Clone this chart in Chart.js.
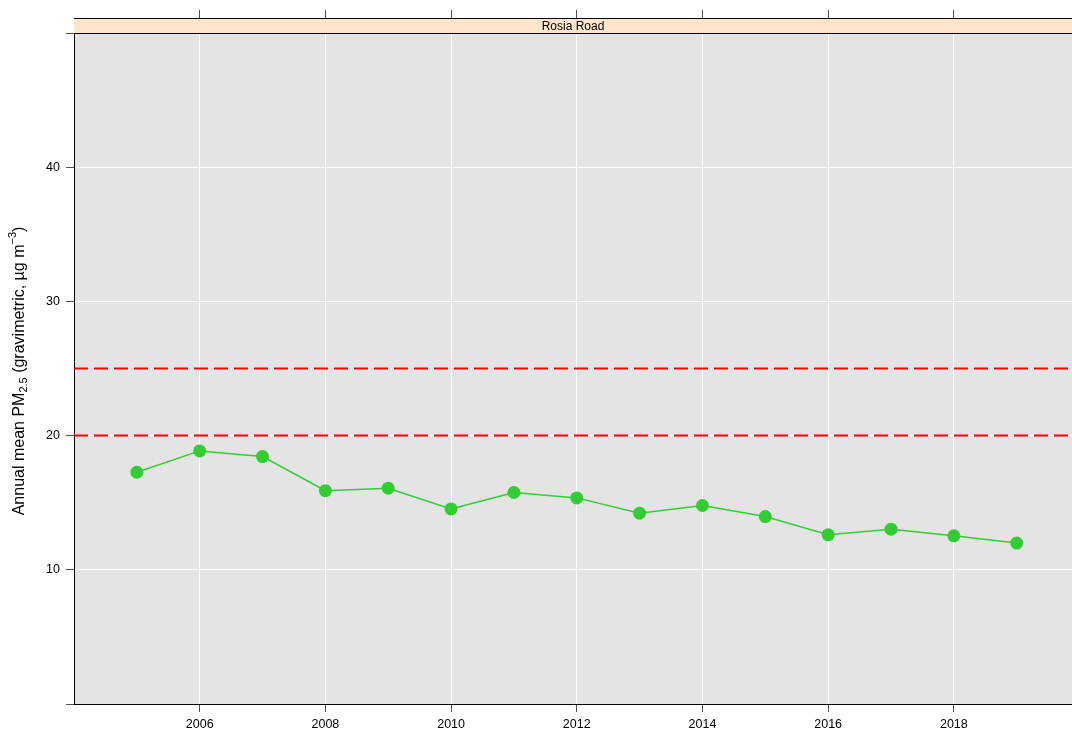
<!DOCTYPE html>
<html>
<head>
<meta charset="utf-8">
<script src="https://cdn.jsdelivr.net/npm/chart.js@4/dist/chart.umd.min.js"></script>
<style>
  html, body { margin: 0; padding: 0; background: #fff; }
  #wrap { width: 1072px; height: 729px; }
</style>
</head>
<body>
<div id="wrap"><canvas id="chart" width="1072" height="729"></canvas></div>
<script>
// data
const years = [2005, 2006, 2007, 2008, 2009, 2010, 2011, 2012, 2013, 2014, 2015, 2016, 2017, 2018, 2019];
const pm25 = [17.27, 18.86, 18.44, 15.9, 16.08, 14.54, 15.76, 15.36, 14.22, 14.79, 13.97, 12.61, 13.03, 12.53, 11.99];
const limitLines = [25, 20];
const xTicks = [2006, 2008, 2010, 2012, 2014, 2016, 2018];
const yTicks = [0, 10, 20, 30, 40, 50];
const yLabels = [10, 20, 30, 40];
const panelName = "Rosia Road";

const xMin = 2004.0;
const xMax = 2019.88;
const yMin = 0;
const yMax = 51.12; // top 15px of the panel hold the strip
const STRIP_H = 15;

document.addEventListener("DOMContentLoaded", () => {
  const ctx = document.getElementById("chart").getContext("2d");

  // grey panel + peach strip with the site name
  const panelPlugin = {
    id: "panel",
    beforeDraw(chart) {
      const { ctx, chartArea: a } = chart;
      ctx.save();
      ctx.fillStyle = "#e4e4e4";
      ctx.fillRect(a.left, a.top + STRIP_H, a.right - a.left, a.bottom - a.top - STRIP_H);
      ctx.restore();
    },
    beforeDatasetsDraw(chart) {
      const { ctx, chartArea: a } = chart;
      ctx.save();
      ctx.fillStyle = "#ffe5cc";
      ctx.fillRect(a.left, a.top, a.right - a.left, STRIP_H);
      ctx.strokeStyle = "#000";
      ctx.lineWidth = 1;
      ctx.beginPath();
      ctx.moveTo(a.left, a.top + 0.5);
      ctx.lineTo(a.right, a.top + 0.5);
      ctx.moveTo(a.left, a.top + STRIP_H + 0.5);
      ctx.lineTo(a.right, a.top + STRIP_H + 0.5);
      ctx.stroke();
      ctx.fillStyle = "#000";
      ctx.font = "12px 'Liberation Sans', Arial, sans-serif";
      ctx.textAlign = "center";
      ctx.textBaseline = "middle";
      ctx.fillText(panelName, (a.left + a.right) / 2, a.top + STRIP_H / 2 + 1);
      ctx.restore();
    },
    afterDraw(chart) {
      // y axis title with sub/superscripts
      const { ctx } = chart;
      const big = "16px 'Liberation Sans', Arial, sans-serif";
      const small = "11px 'Liberation Sans', Arial, sans-serif";
      const parts = [
        { t: "Annual mean PM", f: big, dy: 0 },
        { t: "2.5", f: small, dy: 4 },
        { t: " (gravimetric, \u00b5g m", f: big, dy: 0 },
        { t: "\u22123", f: small, dy: -7 },
        { t: ")", f: big, dy: 0 }
      ];
      ctx.save();
      let total = 0;
      parts.forEach(p => { ctx.font = p.f; p.w = ctx.measureText(p.t).width; total += p.w; });
      ctx.translate(20, 371);
      ctx.rotate(-Math.PI / 2);
      ctx.fillStyle = "#000";
      ctx.textBaseline = "middle";
      ctx.textAlign = "left";
      let u = -total / 2;
      parts.forEach(p => {
        ctx.font = p.f;
        ctx.fillText(p.t, u, p.dy);
        u += p.w;
      });
      ctx.restore();
    }
  };

  const tickFont = { family: "'Liberation Sans', Arial, sans-serif", size: 12.5 };

  const datasets = limitLines.map(v => ({
    data: [{ x: xMin, y: v }, { x: xMax, y: v }],
    borderColor: "#ff0000",
    borderWidth: 2,
    borderDash: [14, 6],
    pointRadius: 0,
    fill: false
  }));
  datasets.push({
    data: years.map((y, i) => ({ x: y, y: pm25[i] })),
    borderColor: "#32cd32",
    backgroundColor: "#32cd32",
    borderWidth: 1.5,
    pointRadius: 6.5,
    pointBorderWidth: 0,
    fill: false
  });

  new Chart(ctx, {
    type: "line",
    data: { datasets },
    options: {
      responsive: false,
      animation: false,
      devicePixelRatio: 1,
      layout: { padding: 0, autoPadding: false },
      plugins: { legend: { display: false }, tooltip: { enabled: false } },
      scales: {
        x: {
          type: "linear",
          position: "bottom",
          min: xMin,
          max: xMax,
          afterBuildTicks: s => { s.ticks = xTicks.map(v => ({ value: v })); },
          afterFit: s => { s.height = 25; s.paddingLeft = 0; s.paddingRight = 0; },
          ticks: {
            callback: v => String(v),
            color: "#000",
            font: tickFont,
            padding: 5,
            maxRotation: 0
          },
          grid: {
            color: "#ffffff",
            lineWidth: 1,
            tickLength: 8,
            tickColor: "#4d4d4d"
          },
          border: { display: true, color: "#000", width: 1 }
        },
        x2: {
          type: "linear",
          position: "top",
          min: xMin,
          max: xMax,
          afterBuildTicks: s => { s.ticks = xTicks.map(v => ({ value: v })); },
          afterFit: s => { s.height = 18; s.paddingLeft = 0; s.paddingRight = 0; },
          ticks: { display: false },
          grid: {
            drawOnChartArea: false,
            tickLength: 8,
            tickColor: "#4d4d4d"
          },
          border: { display: false }
        },
        y: {
          type: "linear",
          position: "left",
          min: yMin,
          max: yMax,
          afterBuildTicks: s => { s.ticks = yTicks.map(v => ({ value: v })); },
          afterFit: s => { s.width = 74; s.paddingTop = 0; s.paddingBottom = 0; },
          ticks: {
            callback: v => (yLabels.includes(v) ? String(v) : ""),
            color: "#000",
            font: tickFont,
            padding: 6
          },
          grid: {
            color: c => (c.tick && (c.tick.value === 0 || c.tick.value === 50) ? "rgba(0,0,0,0)" : "#ffffff"),
            lineWidth: 1,
            tickLength: 8,
            tickColor: "#4d4d4d"
          },
          border: { display: true, color: "#000", width: 1 }
        }
      }
    },
    plugins: [panelPlugin]
  });
});
</script>
</body>
</html>
